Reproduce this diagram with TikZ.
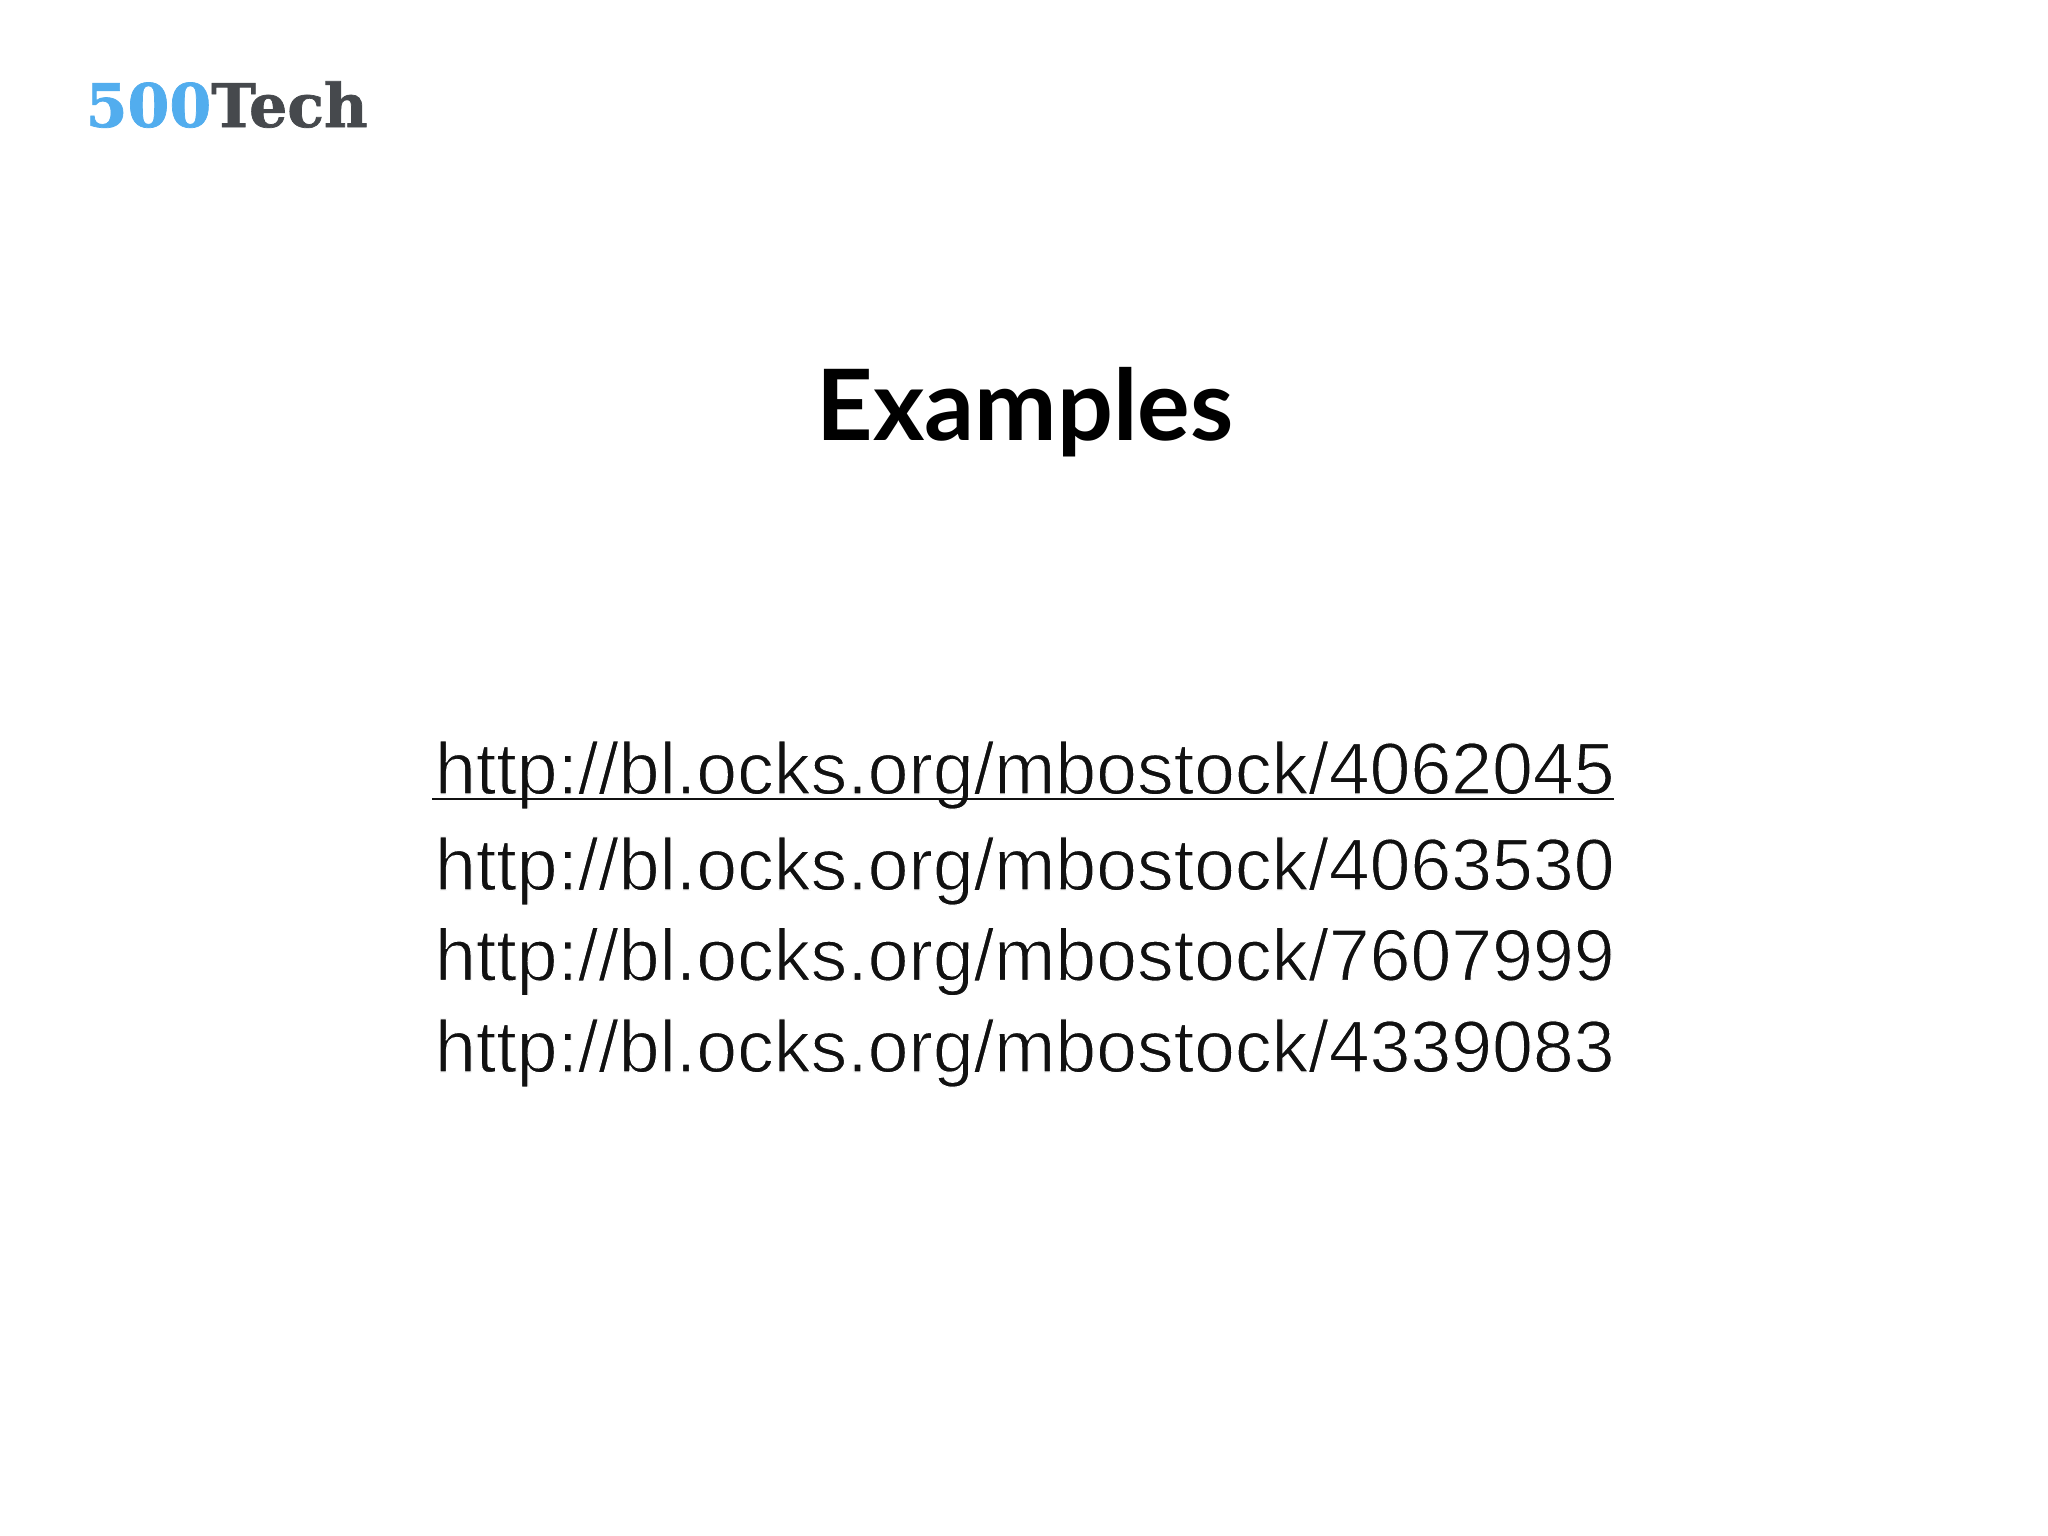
\documentclass[tikz,border=0pt]{standalone}
\usepackage{fontspec}
\setmainfont{Liberation Sans}
\newfontfamily\titlefont{Lato}
\newfontfamily\logofont[BoldFeatures={FakeBold=1.2}]{DejaVu Serif}
\definecolor{logoblue}{HTML}{52ADEE}
\definecolor{logogray}{HTML}{46494D}
\definecolor{urlink}{HTML}{111111}
\newcommand{\thinurl}[1]{\special{pdf:code q 2 Tr 1 1 1 RG 0.32 w}#1\special{pdf:code Q 0 Tr}}
\tikzset{x=0.01cm,y=-0.01cm,
 urlstyle/.style={anchor=base west,inner sep=0pt,outer sep=0pt,text=urlink,font=\fontsize{20.88}{25}\selectfont},
 titlestyle/.style={anchor=base,inner sep=0pt,font=\titlefont\bfseries\fontsize{28}{34}\selectfont},
 logostyle/.style={anchor=base west,inner sep=0pt,font=\logofont\bfseries\fontsize{17.1}{21}\selectfont}}
\begin{document}
\begin{tikzpicture}
\useasboundingbox (0,0) rectangle (2048,1536);
\fill[white] (0,0) rectangle (2048,1536);
\node[logostyle] (logo) at (85,127) {\textcolor{logoblue}{500}\textcolor{logogray}{Tech}};
\node[titlestyle] (title) at (1025,440) {Examples};
\node[urlstyle] (u1) at (435,794) {\thinurl{http://bl.ocks.org/mbostock/4062045}};
\node[urlstyle] (u2) at (435,890) {\thinurl{http://bl.ocks.org/mbostock/4063530}};
\node[urlstyle] (u3) at (435,980.5) {\thinurl{http://bl.ocks.org/mbostock/7607999}};
\node[urlstyle] (u4) at (435,1072) {\thinurl{http://bl.ocks.org/mbostock/4339083}};
\draw[urlink,line width=0.8pt] (u1.base west)++(-3,5) -- ++(1182,0);
\end{tikzpicture}
\end{document}
